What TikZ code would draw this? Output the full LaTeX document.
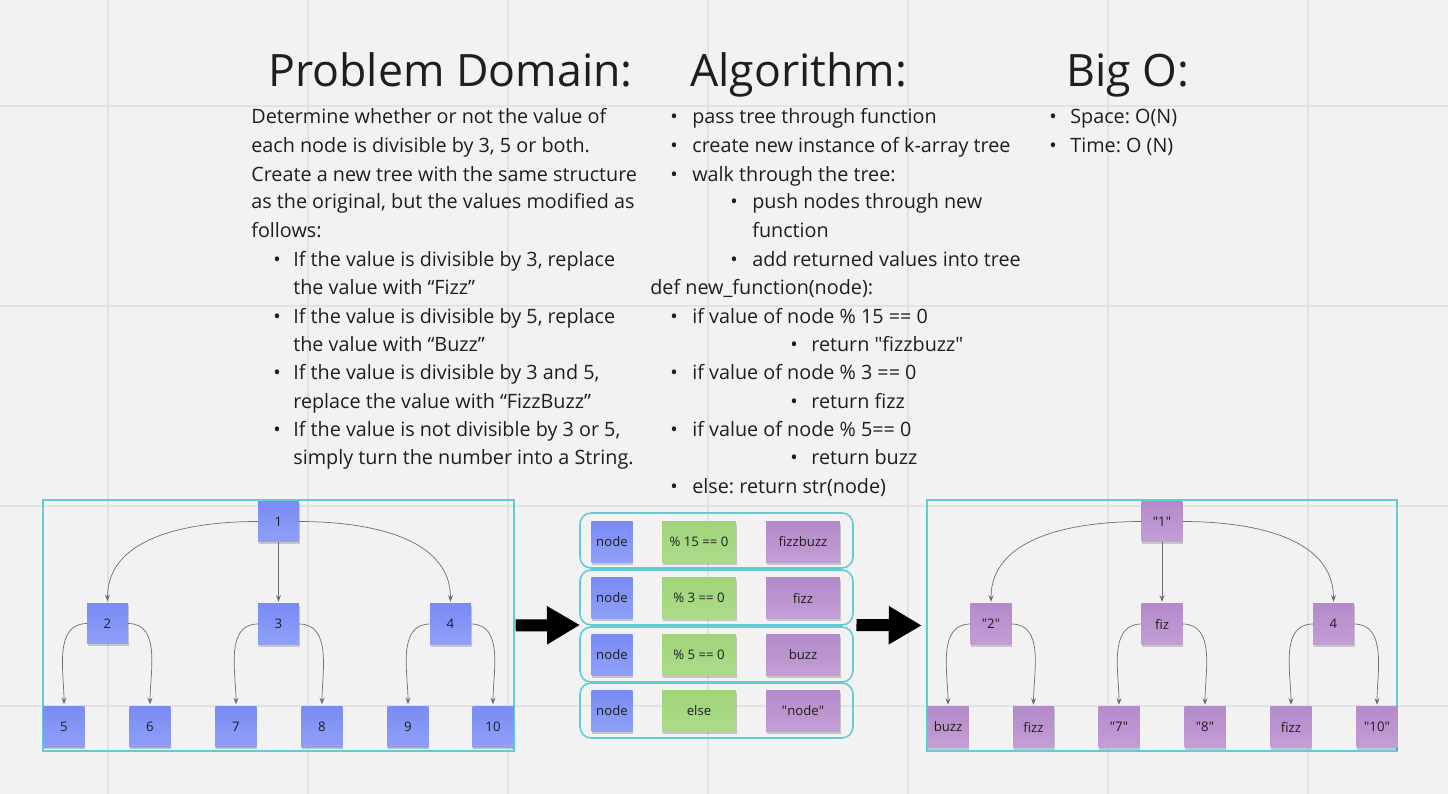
\documentclass[tikz,border=0pt]{standalone}
\usepackage{fontspec}
\setmainfont{Open Sans}
\usetikzlibrary{arrows.meta,shadows}
\frenchspacing

\definecolor{bgcol}{RGB}{242,242,242}
\definecolor{gridcol}{RGB}{226,226,226}
\definecolor{framecol}{RGB}{97,205,211}
\definecolor{inkcol}{RGB}{30,30,30}
\definecolor{linkcol}{RGB}{110,110,110}
\definecolor{bluetop}{RGB}{122,139,245}
\definecolor{bluebot}{RGB}{144,160,247}
\definecolor{purpletop}{RGB}{180,138,202}
\definecolor{purplebot}{RGB}{195,158,213}
\definecolor{greentop}{RGB}{160,212,122}
\definecolor{greenbot}{RGB}{172,219,136}

\newcommand{\dq}{\textquotedbl}

\tikzset{
  sticky/.style={minimum size=0.82cm, inner sep=0pt, outer sep=0pt, text=inkcol,
    font=\fontsize{7.5}{9}\selectfont,
    drop shadow={shadow xshift=0.3pt, shadow yshift=-1.2pt, opacity=0.18, fill=black}},
  bluenote/.style={sticky, top color=bluetop, bottom color=bluebot},
  purplenote/.style={sticky, top color=purpletop, bottom color=purplebot},
  greencell/.style={sticky, minimum width=1.48cm, top color=greentop, bottom color=greenbot},
  purplecell/.style={purplenote, minimum width=1.48cm},
  link/.style={draw=linkcol, line width=0.4pt, shorten >=1pt, -{Stealth[length=1.3mm,width=1mm]}},
  frame/.style={draw=framecol, line width=0.9pt, inner sep=0pt, outer sep=0pt},
  rowbox/.style={frame, rounded corners=0.22cm, minimum width=5.46cm, minimum height=1.1cm},
  bigarrow/.style={line width=0.24cm, -{Triangle[length=6.6mm,width=7.2mm]}},
  title/.style={anchor=base west, inner sep=0pt, text=inkcol, font=\fontsize{25.4}{30}\selectfont},
  body/.style={anchor=base west, inner sep=0pt, text=inkcol, font=\fontsize{11.25}{14}\selectfont},
  dot/.style={body}
}

\begin{document}
\begin{tikzpicture}[x=0.02cm, y=-0.02cm]
\useasboundingbox (0,0) rectangle (1448,794);
\fill[bgcol] (0,0) rectangle (1448,794);
\foreach \x in {108,308,...,1308} \draw[gridcol, line width=1pt] (\x,0) -- (\x,794);
\foreach \y in {106,306,506,706} \draw[gridcol, line width=1pt] (0,\y) -- (1448,\y);

% headings
\node[title] (pdtitle) at (268,87) {Problem Domain:};
\node[title] (algtitle) at (690,87) {Algorithm:};
\node[title] (bigotitle) at (1066,87) {Big O:};

% problem domain
\node[body] (pd1) at (251,124) {Determine whether or not the value of};
\node[body] (pd2) at (251,152.5) {each node is divisible by 3, 5 or both.};
\node[body] (pd3) at (251,181) {Create a new tree with the same structure};
\node[body] (pd4) at (251,209) {as the original, but the values modified as};
\node[body] (pd5) at (251,237.5) {follows:};
\node[dot] (pdb1) at (273,266) {•};
\node[body] (pd6) at (293,266) {If the value is divisible by 3, replace};
\node[body] (pd7) at (293,294.5) {the value with “Fizz”};
\node[dot] (pdb2) at (273,323) {•};
\node[body] (pd8) at (293,323) {If the value is divisible by 5, replace};
\node[body] (pd9) at (293,351) {the value with “Buzz”};
\node[dot] (pdb3) at (273,379.5) {•};
\node[body] (pd10) at (293,379.5) {If the value is divisible by 3 and 5,};
\node[body] (pd11) at (293,408) {replace the value with “FizzBuzz”};
\node[dot] (pdb4) at (273,436) {•};
\node[body] (pd12) at (293,436) {If the value is not divisible by 3 or 5,};
\node[body] (pd13) at (293,464.5) {simply turn the number into a String.};

% algorithm
\node[dot] (alb1) at (670,124) {•};
\node[body] (al1) at (692,124) {pass tree through function};
\node[dot] (alb2) at (670,152.5) {•};
\node[body] (al2) at (692,152.5) {create new instance of k-array tree};
\node[dot] (alb3) at (670,181) {•};
\node[body] (al3) at (692,181) {walk through the tree:};
\node[dot] (alb4) at (730,209) {•};
\node[body] (al4) at (752,209) {push nodes through new};
\node[body] (al5) at (752,237.5) {function};
\node[dot] (alb5) at (730,266) {•};
\node[body] (al6) at (752,266) {add returned values into tree};
\node[body] (al7) at (650,294.5) {def new\_function(node):};
\node[dot] (alb6) at (670,323) {•};
\node[body] (al8) at (692,323) {if value of node \% 15 == 0};
\node[dot] (alb7) at (790,351) {•};
\node[body] (al9) at (811,351) {return \dq fizzbuzz\dq};
\node[dot] (alb8) at (670,379.5) {•};
\node[body] (al10) at (692,379.5) {if value of node \% 3 == 0};
\node[dot] (alb9) at (790,408) {•};
\node[body] (al11) at (811,408) {return fizz};
\node[dot] (alb10) at (670,436) {•};
\node[body] (al12) at (692,436) {if value of node \% 5== 0};
\node[dot] (alb11) at (790,464.5) {•};
\node[body] (al13) at (811,464.5) {return buzz};
\node[dot] (alb12) at (670,493) {•};
\node[body] (al14) at (692,493) {else: return str(node)};

% big o
\node[dot] (bob1) at (1049,124) {•};
\node[body] (bo1) at (1070,124) {Space: O(N)};
\node[dot] (bob2) at (1049,152.5) {•};
\node[body] (bo2) at (1070,152.5) {Time: O (N)};

% input tree
\node[frame, minimum width=9.42cm, minimum height=5.02cm] (leftframe) at (278.5,625.5) {};
\node[bluenote] (a1) at (278.5,521.5) {1};
\node[bluenote] (a2) at (107.5,623.5) {2};
\node[bluenote] (a3) at (278.5,624) {3};
\node[bluenote] (a4) at (450.5,624) {4};
\node[bluenote] (a5) at (64,726.5) {5};
\node[bluenote] (a6) at (150,726.5) {6};
\node[bluenote] (a7) at (236,726.5) {7};
\node[bluenote] (a8) at (322,726.5) {8};
\node[bluenote] (a9) at (408,726.5) {9};
\node[bluenote] (a10) at (493,726.5) {10};
\draw[link] (a1.west) to[out=180, in=90] (a2.north);
\draw[link] (a1.south) -- (a3.north);
\draw[link] (a1.east) to[out=0, in=90] (a4.north);
\draw[link] (a2.west) to[out=180, in=90] (a5.north);
\draw[link] (a2.east) to[out=0, in=90] (a6.north);
\draw[link] (a3.west) to[out=180, in=90] (a7.north);
\draw[link] (a3.east) to[out=0, in=90] (a8.north);
\draw[link] (a4.west) to[out=180, in=90] (a9.north);
\draw[link] (a4.east) to[out=0, in=90] (a10.north);

% rule table
\node[rowbox] (row1) at (716.5,540.5) {};
\node[rowbox] (row2) at (716.5,597.5) {};
\node[rowbox] (row3) at (716.5,654.5) {};
\node[rowbox] (row4) at (716.5,710.5) {};
\node[bluenote] (in1) at (612,542) {node};
\node[greencell] (cond1) at (699,542) {\% 15 == 0};
\node[purplecell] (out1) at (803,542) {fizzbuzz};
\node[bluenote] (in2) at (612,598) {node};
\node[greencell] (cond2) at (699,598) {\% 3 == 0};
\node[purplecell] (out2) at (803,598) {fizz};
\node[bluenote] (in3) at (612,655) {node};
\node[greencell] (cond3) at (699,655) {\% 5 == 0};
\node[purplecell] (out3) at (803,655) {buzz};
\node[bluenote] (in4) at (612,711) {node};
\node[greencell] (cond4) at (699,711) {else};
\node[purplecell] (out4) at (803,711) {\dq node\dq};

% output tree
\node[frame, minimum width=9.4cm, minimum height=5.02cm] (rightframe) at (1162,625.5) {};
\node[purplenote] (b1) at (1162,521.5) {\dq 1\dq};
\node[purplenote] (b2) at (991,624) {\dq 2\dq};
\node[purplenote] (b3) at (1162,624) {fiz};
\node[purplenote] (b4) at (1333.5,624) {4};
\node[purplenote] (b5) at (948,727) {buzz};
\node[purplenote] (b6) at (1033.5,727) {fizz};
\node[purplenote] (b7) at (1119,727) {\dq 7\dq};
\node[purplenote] (b8) at (1205,727) {\dq 8\dq};
\node[purplenote] (b9) at (1291,727) {fizz};
\node[purplenote] (b10) at (1377,727) {\dq 10\dq};
\draw[link] (b1.west) to[out=180, in=90] (b2.north);
\draw[link] (b1.south) -- (b3.north);
\draw[link] (b1.east) to[out=0, in=90] (b4.north);
\draw[link] (b2.west) to[out=180, in=90] (b5.north);
\draw[link] (b2.east) to[out=0, in=90] (b6.north);
\draw[link] (b3.west) to[out=180, in=90] (b7.north);
\draw[link] (b3.east) to[out=0, in=90] (b8.north);
\draw[link] (b4.west) to[out=180, in=90] (b9.north);
\draw[link] (b4.east) to[out=0, in=90] (b10.north);

% flow arrows
\draw[bigarrow, shorten <=1pt] (leftframe.east) -- (row2.south west);
\draw[bigarrow, shorten <=2pt, shorten >=3pt] (row2.south east) -- (rightframe.west);
\end{tikzpicture}
\end{document}
